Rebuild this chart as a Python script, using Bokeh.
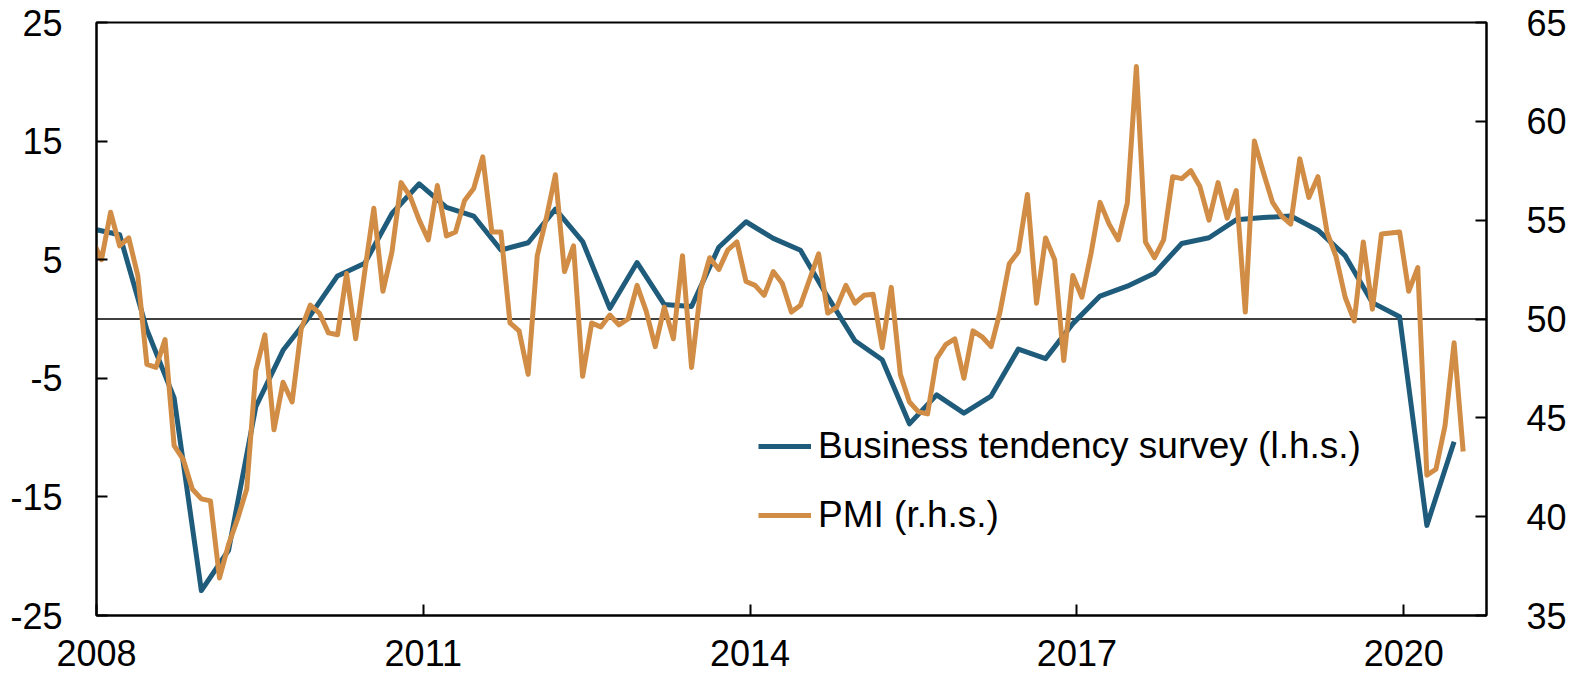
from bokeh.plotting import figure
from bokeh.models import Range1d, LinearAxis, FixedTicker, Span, Legend, LegendItem
from bokeh.embed import file_html
from bokeh.resources import INLINE

# Monthly PMI, Jan 2008 .. Aug 2020 (r.h.s.)
pmi = [54.0, 53.0, 55.4, 53.7, 54.1, 52.2, 47.7, 47.55, 48.96, 43.6, 42.9, 41.4,
       40.9, 40.8, 36.9, 38.6, 39.9, 41.4, 47.4, 49.2, 44.4, 46.8, 45.8, 49.5,
       50.7, 50.3, 49.3, 49.2, 52.3, 49.0, 52.4, 55.6, 51.4, 53.4, 56.9, 56.2,
       55.0, 54.0, 56.75, 54.2, 54.4, 56.0, 56.6, 58.2, 54.4, 54.4, 49.8, 49.4,
       47.2, 53.2, 55.1, 57.3, 52.4, 53.7, 47.1, 49.8, 49.6, 50.2, 49.7, 50.0,
       51.7, 50.4, 48.6, 50.6, 49.0, 53.2, 47.55, 51.5, 53.1, 52.5, 53.5, 53.9,
       51.9, 51.7, 51.2, 52.4, 51.8, 50.35, 50.7, 52.0, 53.3, 50.3, 50.6, 51.7,
       50.8, 51.2, 51.25, 48.55, 51.6, 47.2, 45.8, 45.3, 45.2, 48.0, 48.7, 49.0,
       47.0, 49.4, 49.1, 48.6, 50.4, 52.8, 53.4, 56.3, 50.8, 54.1, 53.0, 47.9,
       52.2, 51.1, 53.3, 55.9, 54.8, 54.0, 55.86, 62.77, 53.9, 53.1, 54.0, 57.2,
       57.1, 57.5, 56.7, 55.0, 56.9, 55.1, 56.5, 50.35, 59.0, 57.4, 55.9, 55.2,
       54.8, 58.1, 56.15, 57.2, 54.4, 53.15, 51.1, 49.9, 53.9, 50.5, 54.3, 54.35,
       54.4, 51.4, 52.6, 42.1, 42.4, 44.6, 48.8, 43.3]

# Quarterly business tendency survey, Q1 2008 .. Q3 2020 (l.h.s.)
bts = [7.6, 7.1, -0.9, -6.65, -22.9, -19.5, -7.4, -2.64, 0.3, 3.63, 4.7, 8.9,
       11.4, 9.42, 8.68, 5.82, 6.43, 9.26, 6.53, 0.9, 4.76, 1.22, 1.06, 6.05,
       8.2, 6.8, 5.79, 1.86, -1.83, -3.44, -8.84, -6.4, -7.94, -6.5, -2.54, -3.34,
       -0.39, 1.93, 2.77, 3.86, 6.37, 6.85, 8.36, 8.55, 8.68, 7.49, 5.34, 1.38,
       0.19, -17.4, -10.35]

left_ticks = [-25, -15, -5, 5, 15, 25]
left_labels = ["-25", "-15", "-5", "5", "15", "25"]
right_ticks = [35, 40, 45, 50, 55, 60, 65]
year_ticks = [2008, 2011, 2014, 2017, 2020]

pmi_months = list(range(len(pmi)))
bts_months = [3 * k for k in range(len(bts))]
x_pmi = [2008 + (m - 0.45) / 12 for m in pmi_months]
x_bts = [2008 + (m - 0.45) / 12 for m in bts_months]

BLUE = "#1f5b7b"
ORANGE = "#d18d45"
FONT = "Liberation Sans"
FS = "36px"

p = figure(width=1569, height=675, output_backend="svg", toolbar_location=None,
           x_range=Range1d(2008, 2020.76), y_range=Range1d(-25, 25),
           min_border_left=96, min_border_right=81, min_border_top=22,
           min_border_bottom=60)
p.extra_y_ranges = {"pmi": Range1d(35, 65)}
p.add_layout(LinearAxis(y_range_name="pmi", ticker=FixedTicker(ticks=right_ticks)), "right")
p.xgrid.visible = False
p.ygrid.visible = False
p.outline_line_color = "black"
p.outline_line_width = 2
p.background_fill_color = "white"
p.border_fill_color = "white"

p.xaxis.ticker = FixedTicker(ticks=year_ticks)
p.yaxis[0].ticker = FixedTicker(ticks=left_ticks)
p.yaxis[0].major_label_overrides = dict(zip(left_ticks, left_labels))

for ax in p.xaxis + p.yaxis:
    ax.axis_line_color = "black"
    ax.axis_line_width = 2
    ax.major_tick_line_color = "black"
    ax.major_tick_line_width = 2
    ax.major_tick_in = 11
    ax.major_tick_out = 0
    ax.minor_tick_line_color = None
    ax.major_label_text_font = FONT
    ax.major_label_text_font_size = FS
    ax.major_label_text_color = "black"

p.xaxis.major_label_standoff = 24
p.xaxis.major_label_text_line_height = 0.8
p.yaxis[0].major_label_standoff = 34
p.yaxis[1].major_label_standoff = 40

p.add_layout(Span(location=0, dimension="width", line_color="black",
                  line_width=1.5, level="underlay"))

r_bts = p.line(x_bts, bts, line_color=BLUE, line_width=5, line_join="round")
r_pmi = p.line(x_pmi, pmi, line_color=ORANGE, line_width=5, line_join="round",
               y_range_name="pmi")

legend = Legend(items=[LegendItem(label="Business tendency survey (l.h.s.)", renderers=[r_bts]),
                       LegendItem(label="PMI (r.h.s.)", renderers=[r_pmi])],
                location=(662, 79))
legend.label_text_font = FONT
legend.label_text_font_size = "37px"
legend.label_text_color = "black"
legend.glyph_width = 53
legend.glyph_height = 40
legend.label_height = 40
legend.spacing = 27
legend.padding = 10
legend.margin = 0
legend.label_standoff = 7
legend.border_line_color = None
legend.background_fill_alpha = 0
p.add_layout(legend)

open("out.html", "w").write(file_html(p, INLINE))
